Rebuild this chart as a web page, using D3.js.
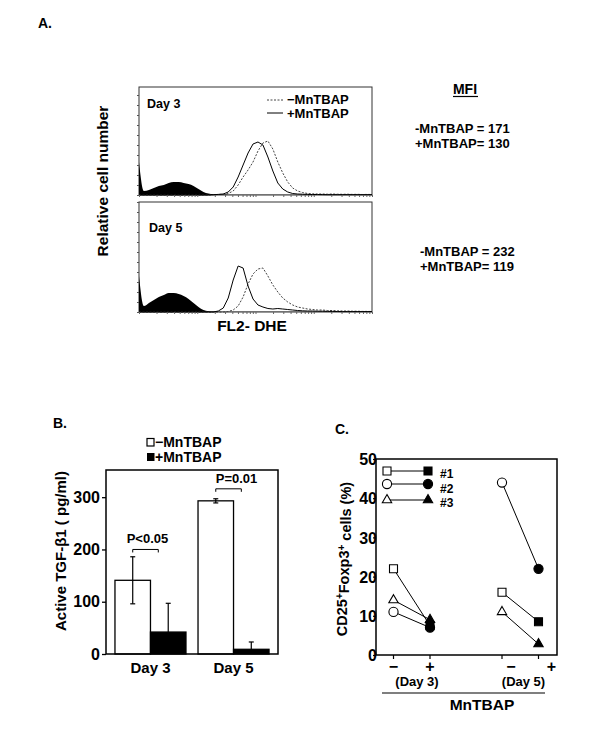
<!DOCTYPE html>
<html><head><meta charset="utf-8">
<script src="https://cdn.jsdelivr.net/npm/d3@7"></script>
<style>
body{margin:0;background:#fff}
svg{display:block}
text{font-family:"Liberation Sans",Arial,Helvetica,sans-serif;font-weight:bold;fill:#000}
</style>
</head><body>
<svg id="c" width="600" height="736"></svg>
<script>
// ---------------- DATA ----------------
// Panel A: flow histograms (48 channels, log FL2 axis)
const day3Unstained = [33,4,5,7,9,10,12,13,13,12,11,9,6,3,1.5,0.8,0.5,0.4,0.3,0.3,0.3,0.2,0.2,0.2,0.2,0.2,0.2,0.2,0.2,0.2,0.2,0.2,0.2,0.2,0.2,0.2,0.2,0.2,0.2,0.2,0.2,0.2,0.2,0.2,0.2,0.2,0.2,0.2];
const day3Neg = [0,0,0,0,0,0,0,0,0,0,0,0,0,0,0,0.3,0.5,0.8,1.5,4,10,18,25,33,44,52,54,46,33,22,13,7,4,2.5,1.5,1.2,1,1,0.8,1,0.8,0.7,0.8,0.6,0.7,0.5,0.6,0.5];
const day3Pos = [0,0,0,0,0,0,0,0,0,0,0,0,0,0,0,0.3,0.6,1,3,8,18,30,42,51,53,50,38,24,12,6,3,1.5,1,0.8,0.6,0.5,0.5,0.4,0.3,0.3,0.3,0.3,0.3,0.3,0.3,0.3,0.3,0.3];
const day5Unstained = [36,6,9,12,15,17,19,19,18,16,13,9,5,2,0.8,0.4,0.3,0.3,0.2,0.2,0.2,0.2,0.2,0.2,0.2,0.2,0.2,0.2,0.2,0.2,0.2,0.2,0.2,0.2,0.2,0.2,0.2,0.2,0.2,0.2,0.2,0.2,0.2,0.2,0.2,0.2,0.2,0.2];
const day5Neg = [0,0,0,0,0,0,0,0,0,0,0,0,0,0,0,0,0,0,0.5,2,6,15,28,38,43,44,36,27,20,14,10,7,5,4,3,2.5,2,2,1.5,1.5,1.2,1,1,0.8,0.8,0.6,0.6,0.5];
const day5Pos = [0,0,0,0,0,0,0,0,0,0,0,0,0,0,0,0,1,4,14,32,46,44,26,13,7,5,3.5,3,3.5,3,2.5,2,1.5,1.2,1,1,0.8,0.8,0.6,0.6,0.5,0.4,0.4,0.4,0.4,0.4,0.4,0.4];
const mfiDay3 = ["-MnTBAP = 171","+MnTBAP= 130"];
const mfiDay5 = ["-MnTBAP = 232","+MnTBAP= 119"];
const histLegend = ["\u2212MnTBAP","+MnTBAP"];

// Panel B: active TGF-beta1
const daysB = ["Day 3","Day 5"];
const treatB = ["\u2212MnTBAP","+MnTBAP"];
const tgfNeg = [141, 293];
const tgfNegErr = [45, 4];
const tgfPos = [42, 9];
const tgfPosErr = [55, 14];
const pLabels = ["P<0.05","P=0.01"];
const pLevels = [200, 316];
const yTicksB = [0,100,200,300];

// Panel C: CD25+Foxp3+ cells (%)
const subjects = ["#1","#2","#3"];
const foxDay3Neg = [22, 11, 14];
const foxDay3Pos = [7.5, 7, 9];
const foxDay5Neg = [16, 44, 11];
const foxDay5Pos = [8.5, 22, 2.8];
const yTicksC = [0,10,20,30,40,50];
const daysC = ["Day 3","Day 5"];
const treatC = ["\u2212","+"];

// ---------------- DRAW ----------------
const svg = d3.select("#c");

function txt(x, y, s, size, anchor){
  return svg.append("text").attr("x",x).attr("y",y).attr("font-size",size)
    .attr("text-anchor",anchor||"start").text(s);
}

// ---- Panel A ----
txt(38, 28, "A.", 14);
const xA = d3.scaleLinear().domain([0, 47]).range([139, 372]);
const xLogA = d3.scaleLog().domain([1, 10000]).range([139, 372]);
const bins = d3.range(day3Neg.length);

function histPanel(top, bottom, unst, neg, pos, dayLabel, legend){
  const y = d3.scaleLinear().domain([0, bottom-top]).range([bottom, top]);
  const g = svg.append("g");
  g.append("rect").attr("x",139).attr("y",top).attr("width",233).attr("height",bottom-top)
    .attr("fill","none").attr("stroke","#333").attr("stroke-width",1);
  g.append("path").datum(bins)
    .attr("d", d3.area().x(i=>xA(i)).y0(bottom).y1(i=>y(unst[i])).curve(d3.curveMonotoneX))
    .attr("fill","#000");
  g.append("path").datum(bins)
    .attr("d", d3.line().x(i=>xA(i)).y(i=>y(neg[i])).curve(d3.curveLinear))
    .attr("fill","none").attr("stroke","#444").attr("stroke-width",1).attr("stroke-dasharray","2,1.5");
  g.append("path").datum(bins)
    .attr("d", d3.line().x(i=>xA(i)).y(i=>y(pos[i])).curve(d3.curveLinear))
    .attr("fill","none").attr("stroke","#000").attr("stroke-width",1);
  g.append("g").attr("transform","translate(139,0)")
    .call(d3.axisLeft(y).ticks(10).tickSize(2).tickFormat(""))
    .call(s=>s.select(".domain").remove())
    .call(s=>s.selectAll("line").attr("stroke","#555"));
  g.append("g").attr("transform",`translate(0,${bottom})`)
    .call(d3.axisBottom(xLogA).ticks(20).tickSize(2).tickFormat(""))
    .call(s=>s.select(".domain").remove())
    .call(s=>s.selectAll("line").attr("stroke","#666"));
  txt(dayLabel.x, dayLabel.y, dayLabel.t, 12.5);
  if(legend){
    g.append("line").attr("x1",267).attr("x2",283).attr("y1",100).attr("y2",100)
      .attr("stroke","#444").attr("stroke-dasharray","2,1.5");
    g.append("line").attr("x1",267).attr("x2",283).attr("y1",113).attr("y2",113).attr("stroke","#000");
    txt(287, 104, legend[0], 13);
    txt(287, 118, legend[1], 13);
  }
}
histPanel(87, 195, day3Unstained, day3Neg, day3Pos, {x:147,y:108,t:"Day 3"}, histLegend);
histPanel(202, 312, day5Unstained, day5Neg, day5Pos, {x:149,y:232,t:"Day 5"}, null);

svg.append("text").attr("transform","translate(108,181) rotate(-90)")
  .attr("text-anchor","middle").attr("font-size",15.5).text("Relative cell number");
txt(252, 331, "FL2- DHE", 15.5, "middle");

txt(465, 94, "MFI", 14, "middle");
svg.append("line").attr("x1",453).attr("x2",478).attr("y1",96.5).attr("y2",96.5).attr("stroke","#000").attr("stroke-width",1.2);
txt(415, 133, mfiDay3[0], 13);
txt(415, 148, mfiDay3[1], 13);
txt(420, 256, mfiDay5[0], 13);
txt(420, 271, mfiDay5[1], 13);

// ---- Panel B ----
txt(53, 428, "B.", 14);
const xB = d3.scaleBand().domain(daysB).range([106, 278]).paddingInner(0.145).paddingOuter(0.108);
const xBi = d3.scaleBand().domain(treatB).range([0, xB.bandwidth()]);
const yB = d3.scaleLinear().domain([0, 352]).range([654, 470]);
const gB = svg.append("g");

const barsB = [];
daysB.forEach((d,i)=>{
  barsB.push({day:d, t:treatB[0], v:tgfNeg[i], e:tgfNegErr[i], both:true});
  barsB.push({day:d, t:treatB[1], v:tgfPos[i], e:tgfPosErr[i], both:false});
});
gB.selectAll("rect.bar").data(barsB).join("rect").attr("class","bar")
  .attr("x",d=>xB(d.day)+xBi(d.t)).attr("width",xBi.bandwidth())
  .attr("y",d=>yB(d.v)).attr("height",d=>yB(0)-yB(d.v))
  .attr("fill",d=>d.t===treatB[0]?"#fff":"#000").attr("stroke","#000").attr("stroke-width",1.3);
barsB.forEach(d=>{
  const cx = xB(d.day)+xBi(d.t)+xBi.bandwidth()*0.5;
  const y1 = yB(d.v+d.e), y0 = d.both ? yB(d.v-d.e) : yB(d.v);
  gB.append("line").attr("x1",cx).attr("x2",cx).attr("y1",y1).attr("y2",y0).attr("stroke","#000").attr("stroke-width",1.2);
  gB.append("line").attr("x1",cx-2.5).attr("x2",cx+2.5).attr("y1",y1).attr("y2",y1).attr("stroke","#000").attr("stroke-width",1.2);
  if(d.both) gB.append("line").attr("x1",cx-2.5).attr("x2",cx+2.5).attr("y1",y0).attr("y2",y0).attr("stroke","#000").attr("stroke-width",1.2);
});
gB.append("rect").attr("x",106).attr("y",470).attr("width",172).attr("height",184)
  .attr("fill","none").attr("stroke","#000").attr("stroke-width",1.5);
gB.append("g").attr("transform","translate(106,0)")
  .call(d3.axisLeft(yB).tickValues(yTicksB).tickSize(4).tickPadding(2))
  .call(s=>s.select(".domain").remove())
  .call(s=>s.selectAll("line").attr("stroke","#000").attr("stroke-width",1.3))
  .call(s=>s.selectAll("text").attr("font-size",16).attr("font-family",'"Liberation Sans",Arial,sans-serif').attr("font-weight","bold"));
daysB.forEach(d=>txt(xB(d)+xB.bandwidth()/2, 673, d, 15, "middle"));
daysB.forEach((d,i)=>{
  const x1 = xB(d)+xBi(treatB[0])+xBi.bandwidth()*0.5;
  const x2 = xB(d)+xBi(treatB[1])+xBi.bandwidth()*0.22;
  const yy = yB(pLevels[i]);
  gB.append("path").attr("d",`M${x1},${yy+3}V${yy}H${x2}V${yy+3}`).attr("fill","none").attr("stroke","#000").attr("stroke-width",1);
  txt((x1+x2)/2+(i===0?2:8), yy-6, pLabels[i], 13, "middle");
});
gB.append("rect").attr("x",147).attr("y",438.5).attr("width",7).attr("height",7.5).attr("fill","#fff").attr("stroke","#000").attr("stroke-width",1.2);
gB.append("rect").attr("x",147).attr("y",453).attr("width",7.5).attr("height",8).attr("fill","#000");
txt(155, 447, treatB[0], 14);
txt(155, 462, treatB[1], 14);
svg.append("text").attr("transform","translate(66,551) rotate(-90)")
  .attr("text-anchor","middle").attr("font-size",15).text("Active TGF-\u03B21 ( pg/ml)");

// ---- Panel C ----
txt(335, 434, "C.", 14);
const xCg = d3.scalePoint().domain(daysC).range([412, 520.5]);
const xCi = d3.scalePoint().domain(treatC).range([-18.5, 18]);
const yC = d3.scaleLinear().domain([0, 50]).range([655, 459]);
const gC = svg.append("g");
const shapes = [d3.symbolSquare, d3.symbolCircle, d3.symbolTriangle];
const sizes = [64, 66, 38];
function marker(x, y, k, filled){
  gC.append("path").attr("transform",`translate(${x},${y})`)
    .attr("d", d3.symbol(shapes[k], sizes[k])())
    .attr("fill", filled ? "#000" : "#fff").attr("stroke","#000").attr("stroke-width",1.1);
}
const pairs = [
  {day:"Day 3", neg:foxDay3Neg, pos:foxDay3Pos},
  {day:"Day 5", neg:foxDay5Neg, pos:foxDay5Pos}
];
pairs.forEach(p=>{
  const xn = xCg(p.day)+xCi(treatC[0]), xp = xCg(p.day)+xCi(treatC[1]);
  subjects.forEach((s,k)=>{
    gC.append("line").attr("x1",xn).attr("x2",xp).attr("y1",yC(p.neg[k])).attr("y2",yC(p.pos[k]))
      .attr("stroke","#000").attr("stroke-width",1);
  });
  subjects.forEach((s,k)=>{
    marker(xn, yC(p.neg[k]), k, false);
    marker(xp, yC(p.pos[k]), k, true);
  });
});
gC.append("rect").attr("x",376).attr("y",459).attr("width",181).attr("height",196)
  .attr("fill","none").attr("stroke","#000").attr("stroke-width",1.5);
gC.append("g").attr("transform","translate(376,0)")
  .call(d3.axisLeft(yC).tickValues(yTicksC).tickSize(3).tickPadding(-4))
  .call(s=>s.select(".domain").remove())
  .call(s=>s.selectAll("line").attr("stroke","#000").attr("stroke-width",1.2))
  .call(s=>s.selectAll("text").attr("font-size",16).attr("dy","0.36em").attr("font-family",'"Liberation Sans",Arial,sans-serif').attr("font-weight","bold"));
daysC.forEach((d,di)=>{
  treatC.forEach((t,ti)=>{
    const x = xCg(d)+xCi(t);
    gC.append("line").attr("x1",x).attr("x2",x).attr("y1",655).attr("y2",659).attr("stroke","#000").attr("stroke-width",1.2);
    const lx = x + (di===1 ? (ti===0 ? 9 : 13) : 0);
    txt(lx, 672, t, 16, "middle");
  });
  txt(xCg(d)+(di===0?5:3), 686, "("+d+")", 13, "middle");
});
gC.append("line").attr("x1",382).attr("x2",545).attr("y1",693).attr("y2",693).attr("stroke","#000").attr("stroke-width",1.2);
txt(482, 710, "MnTBAP", 15.5, "middle");
const legY = [471, 484, 500];
const legTextY = [478, 493, 507];
subjects.forEach((s,k)=>{
  gC.append("line").attr("x1",387).attr("x2",428).attr("y1",legY[k]).attr("y2",legY[k]).attr("stroke","#000");
  marker(387, legY[k], k, false);
  marker(428, legY[k], k, true);
  txt(440, legTextY[k], s, 12);
});
svg.append("text").attr("transform","translate(347,559) rotate(-90)")
  .attr("text-anchor","middle").attr("font-size",14.5)
  .call(t=>{
    t.append("tspan").text("CD25");
    t.append("tspan").attr("dy","-0.45em").attr("font-size",10).text("+");
    t.append("tspan").attr("dy","0.45em").text("Foxp3");
    t.append("tspan").attr("dy","-0.45em").attr("font-size",10).text("+");
    t.append("tspan").attr("dy","0.45em").text(" cells (%)");
  });
</script>
</body></html>
